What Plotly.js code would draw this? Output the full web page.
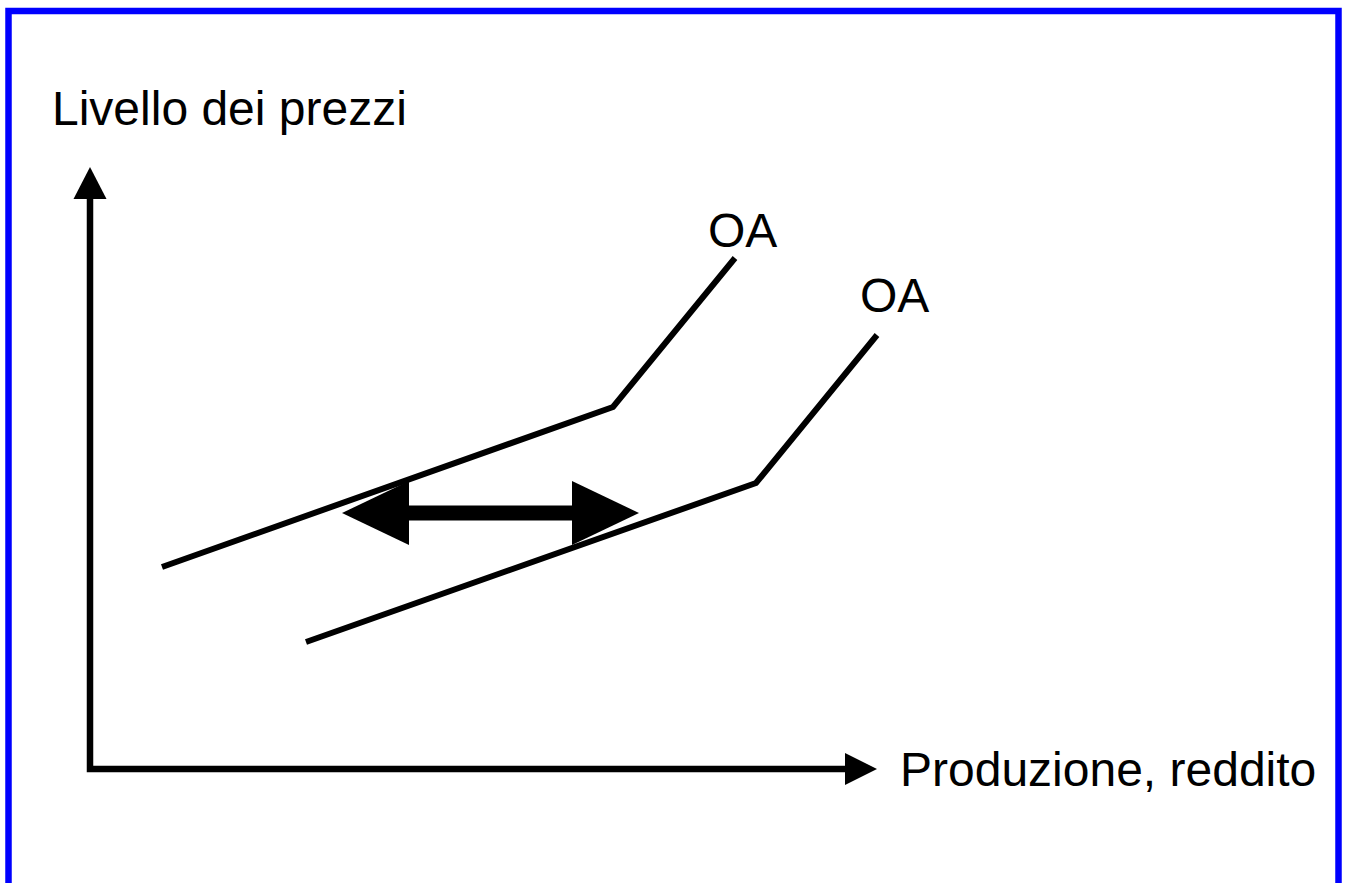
<!DOCTYPE html>
<html><head><meta charset="utf-8">
<script src="https://cdn.plot.ly/plotly-3.0.1.min.js"></script>
<style>html,body{margin:0;padding:0;background:#fff;overflow:hidden}#chart{width:1346px;height:883px}</style>
</head><body><div id="chart"></div>
<script>
// Schematic units (origin at the axes corner)
const oa1_x = [72, 523, 645];
const oa1_y = [202, 362, 511];
const oa2_x = [216, 666, 787];
const oa2_y = [127, 286, 434];
const curveLabels = ["OA", "OA"];
const label_x = [616, 768];
const label_y = [539, 474];
const shift_x = [252, 549];   // tips of the double arrow
const shift_y = [256, 256];
const xAxisTitle = "Produzione, reddito";
const yAxisTitle = "Livello dei prezzi";
const xAxisTip = 787;
const yAxisTip = 602;

const W = 1346, H = 883;
const X0 = 90, Y0 = 769; // pixel location of the data origin
const FONT = "Liberation Sans, Arial, sans-serif";

function tri(tx, ty, dx, dy, len, hw) {
  // tip (tx,ty), direction (dx,dy) unit, length len, half width hw (data units = px)
  const bx = tx - dx*len, by = ty - dy*len;
  const px = -dy, py = dx;
  return `M${tx},${ty} L${bx+px*hw},${by+py*hw} L${bx-px*hw},${by-py*hw} Z`;
}

const shapes = [];
// blue frame
shapes.push({type:'rect', xref:'paper', yref:'paper', x0:8.5/W, x1:1338.5/W, y0:-0.05, y1:1-11/H,
  line:{color:'#0000FF', width:6.5}, fillcolor:'rgba(0,0,0,0)', layer:'above'});
// axes
const axLen = 32;
shapes.push({type:'path', path:`M0,${yAxisTip-axLen+2} L0,0 L${xAxisTip-axLen+2},0`, line:{color:'black', width:6.5}});
shapes.push({type:'path', path:tri(0, yAxisTip, 0, 1, axLen, 16.5), fillcolor:'black', line:{width:0}});
shapes.push({type:'path', path:tri(xAxisTip, 0, 1, 0, axLen, 16), fillcolor:'black', line:{width:0}});
// double arrow
const headLen = 67, headHW = 32;
shapes.push({type:'line', x0:shift_x[0]+headLen-2, x1:shift_x[1]-headLen+2, y0:shift_y[0], y1:shift_y[1], line:{color:'black', width:15}});
shapes.push({type:'path', path:tri(shift_x[0], shift_y[0], -1, 0, headLen, headHW), fillcolor:'black', line:{width:0}});
shapes.push({type:'path', path:tri(shift_x[1], shift_y[1], 1, 0, headLen, headHW), fillcolor:'black', line:{width:0}});

const traces = [
  {x:oa1_x, y:oa1_y, mode:'lines', line:{color:'black', width:6}, hoverinfo:'skip', showlegend:false},
  {x:oa2_x, y:oa2_y, mode:'lines', line:{color:'black', width:6}, hoverinfo:'skip', showlegend:false}
];

const ann = [
  {x:-40, y:661, text:yAxisTitle, xanchor:'left', yanchor:'middle'},
  {x:808, y:0, text:xAxisTitle, xanchor:'left', yanchor:'middle'},
  {x:label_x[0], y:label_y[0], text:curveLabels[0], xanchor:'left', yanchor:'middle'},
  {x:label_x[1], y:label_y[1], text:curveLabels[1], xanchor:'left', yanchor:'middle'}
].map(a => Object.assign({xref:'x', yref:'y', showarrow:false, font:{family:FONT, size:48, color:'black'}}, a));

const layout = {
  width: W, height: H,
  margin: {l:0, r:0, t:0, b:0, pad:0},
  paper_bgcolor:'white', plot_bgcolor:'white',
  xaxis: {range:[-X0, W-X0], visible:false, fixedrange:true},
  yaxis: {range:[-(H-Y0), Y0], visible:false, fixedrange:true},
  shapes: shapes, annotations: ann, showlegend:false,
  font:{family:FONT}
};
Plotly.newPlot('chart', traces, layout, {staticPlot:true, displayModeBar:false});
</script></body></html>
